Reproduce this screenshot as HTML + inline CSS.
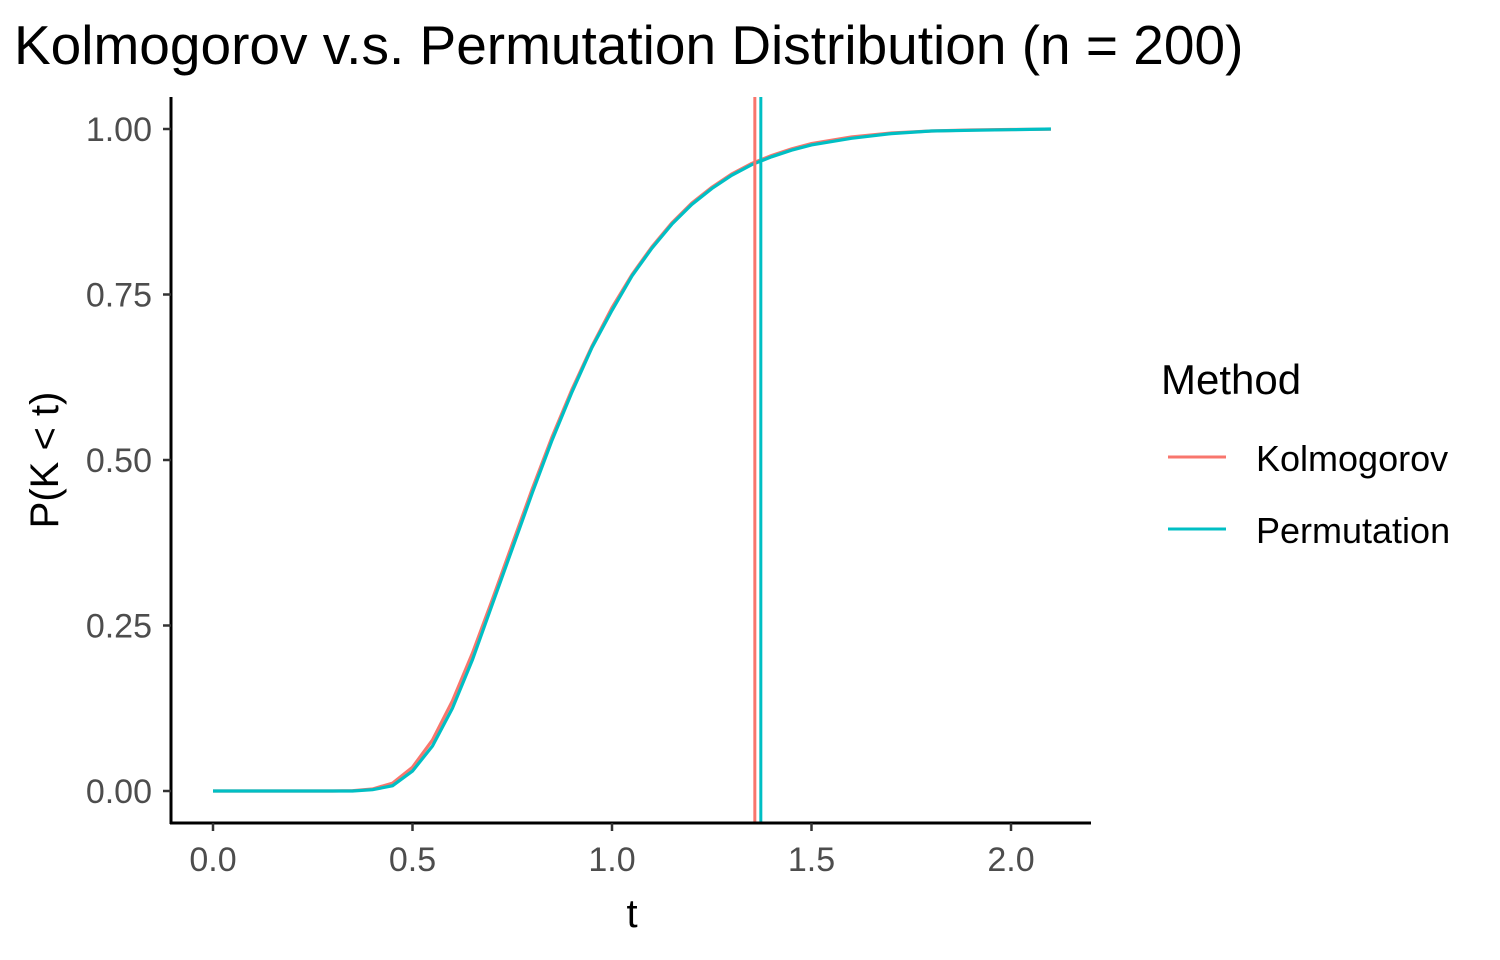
<!DOCTYPE html>
<html><head><meta charset="utf-8"><style>
body{margin:0;background:#fff;}
svg{display:block;font-family:"Liberation Sans",Arial,sans-serif;}
</style></head><body>
<svg id="chart" width="1500" height="960">
<text x="14" y="64" font-size="55" fill="#000">Kolmogorov v.s. Permutation Distribution (n = 200)</text>
<g id="plot"></g>
<line x1="171" y1="97" x2="171" y2="824" stroke="#000" stroke-width="3"/>
<line x1="170" y1="823" x2="1091" y2="823" stroke="#000" stroke-width="3"/>
<g id="xticks"></g>
<g id="yticks"></g>
<text x="632" y="927" font-size="40" text-anchor="middle" fill="#000">t</text>
<text transform="translate(58,460) rotate(-90)" font-size="40" text-anchor="middle" fill="#000">P(K &lt; t)</text>
<g>
<text x="1161" y="394" font-size="42" fill="#000">Method</text>
<line x1="1168" y1="457" x2="1226" y2="457" stroke="#F8766D" stroke-width="3"/>
<text x="1256" y="471" font-size="36" fill="#000">Kolmogorov</text>
<line x1="1168" y1="529" x2="1226" y2="529" stroke="#00BFC4" stroke-width="3"/>
<text x="1256" y="543" font-size="36" fill="#000">Permutation</text>
</g>
</svg>
<script>
const tValues=[0,0.3,0.35,0.4,0.45,0.5,0.55,0.6,0.65,0.7,0.75,0.8,0.85,0.9,0.95,1.0,1.05,1.1,1.15,1.2,1.25,1.3,1.35,1.4,1.45,1.5,1.6,1.7,1.8,1.9,2.0,2.1];
const kolmogorovP=[0,0,0.0005,0.003,0.012,0.036,0.077,0.136,0.208,0.289,0.373,0.456,0.535,0.607,0.672,0.730,0.780,0.822,0.858,0.888,0.912,0.932,0.948,0.960,0.970,0.978,0.988,0.994,0.997,0.9985,0.9993,0.9997];
const permutationP=[0,0,0,0.002,0.008,0.030,0.068,0.125,0.198,0.282,0.366,0.450,0.530,0.603,0.670,0.726,0.778,0.820,0.856,0.886,0.910,0.930,0.946,0.958,0.968,0.976,0.986,0.993,0.997,0.998,0.999,1.0];
const kolmogorovCrit=1.358;
const permutationCrit=1.373;
const xTicks=[0,0.5,1.0,1.5,2.0];
const xTickLabels=["0.0","0.5","1.0","1.5","2.0"];
const yTicks=[0,0.25,0.5,0.75,1];
const yTickLabels=["0.00","0.25","0.50","0.75","1.00"];
const NS="http://www.w3.org/2000/svg";
const xs=v=>213+v*399;
const ys=v=>791-v*662;
const plot=document.getElementById('plot');
function mk(tag,attrs,parent){const e=document.createElementNS(NS,tag);for(const k in attrs)e.setAttribute(k,attrs[k]);parent.appendChild(e);return e;}
function pathD(ps){return tValues.map((t,i)=>(i?'L':'M')+xs(t).toFixed(1)+','+ys(ps[i]).toFixed(1)).join(' ');}
const k=mk('path',{d:pathD(kolmogorovP),fill:'none',stroke:'#F8766D','stroke-width':3.2},plot);


const p=mk('path',{d:pathD(permutationP),fill:'none',stroke:'#00BFC4','stroke-width':3.2},plot);


const kv=mk('line',{x1:xs(kolmogorovCrit),x2:xs(kolmogorovCrit),y1:97,y2:823,stroke:'#F8766D','stroke-width':3},plot);


const pv=mk('line',{x1:xs(permutationCrit),x2:xs(permutationCrit),y1:97,y2:823,stroke:'#00BFC4','stroke-width':3},plot);


const xg=document.getElementById('xticks');
xTicks.forEach((v,i)=>{
 const l=mk('line',{x1:xs(v),x2:xs(v),y1:823,y2:831,stroke:'#333','stroke-width':2.5},xg);
 
 
 const t=mk('text',{x:xs(v),y:871,'font-size':34,'text-anchor':'middle',fill:'#4d4d4d'},xg);
 t.textContent=xTickLabels[i];
 
 
});
const yg=document.getElementById('yticks');
yTicks.forEach((v,i)=>{
 const l=mk('line',{x1:163,x2:171,y1:ys(v),y2:ys(v),stroke:'#333','stroke-width':2.5},yg);
 
 
 const t=mk('text',{x:152,y:ys(v)+12,'font-size':34,'text-anchor':'end',fill:'#4d4d4d'},yg);
 t.textContent=yTickLabels[i];
 
 
});
</script>
</body></html>
